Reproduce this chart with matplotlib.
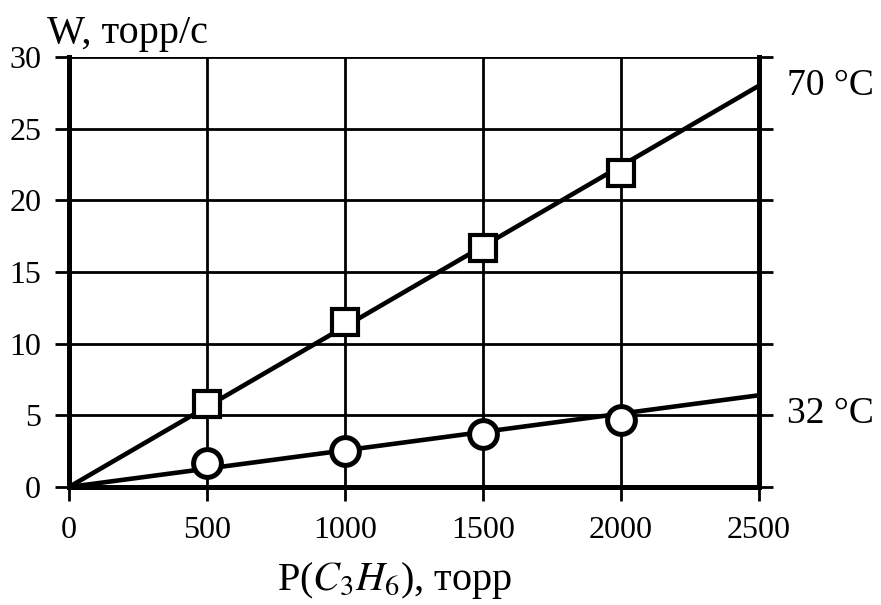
import matplotlib
matplotlib.use("Agg")
import matplotlib.pyplot as plt
import numpy as np

# pressure of propene, torr
pressure = [500, 1000, 1500, 2000]
rate_70 = [5.8, 11.5, 16.7, 21.9]
rate_32 = [1.7, 2.5, 3.7, 4.7]
fit_x = [0, 2500]
fit_70 = [0, 28.0]
fit_32 = [0, 6.4]
x_ticks = [0, 500, 1000, 1500, 2000, 2500]
y_ticks = [0, 5, 10, 15, 20, 25, 30]

plt.rcParams["font.family"] = ["Liberation Serif", "DejaVu Serif"]
plt.rcParams["mathtext.fontset"] = "stix"

fig = plt.figure(figsize=(8.81, 6.05), dpi=100)
ax = fig.add_axes([69 / 881, 1 - 487 / 605, 690 / 881, 430 / 605])

ax.plot(fit_x, fit_70, color="black", lw=3.3, zorder=3)
ax.plot(fit_x, fit_32, color="black", lw=3.3, zorder=3)
ax.plot(pressure, rate_70, ls="none", marker="s", ms=19, mfc="white",
        mec="black", mew=3, zorder=4)
ax.plot(pressure, rate_32, ls="none", marker="o", ms=20, mfc="white",
        mec="black", mew=3.6, zorder=4)

ax.set_xlim(0, 2500)
ax.set_ylim(0, 30)
ax.set_xticks(x_ticks)
ax.set_yticks(y_ticks)
ax.tick_params(axis="both", direction="out", length=10, width=2,
               labelsize=23, color="black")
ax.tick_params(axis="x", pad=11)
ax.tick_params(axis="y", pad=10, right=True)
ax.grid(True, color="black", lw=2)
for tick in ax.yaxis.get_major_ticks():
    if tick.get_loc() == 30:
        tick.gridline.set_visible(False)
        tick.tick2line.set_visible(False)

for side in ["left", "bottom", "right"]:
    ax.spines[side].set_linewidth(3.6)
ax.spines["top"].set_visible(False)

ax.text(1.04, 28.0, "70 °C", transform=ax.get_yaxis_transform(),
        fontsize=27, va="center", ha="left")
ax.text(1.04, 5.1, "32 °C", transform=ax.get_yaxis_transform(),
        fontsize=27, va="center", ha="left")

fig.text(47 / 881, 1 - 43 / 605, "W, торр/с", fontsize=29,
         ha="left", va="baseline")
fig.text(277 / 881, 1 - 590 / 605, r"P($\mathit{C}_3\mathit{H}_6$), торр",
         fontsize=29, ha="left", va="baseline")

fig.savefig("out.png", dpi=100)
plt.close(fig)
